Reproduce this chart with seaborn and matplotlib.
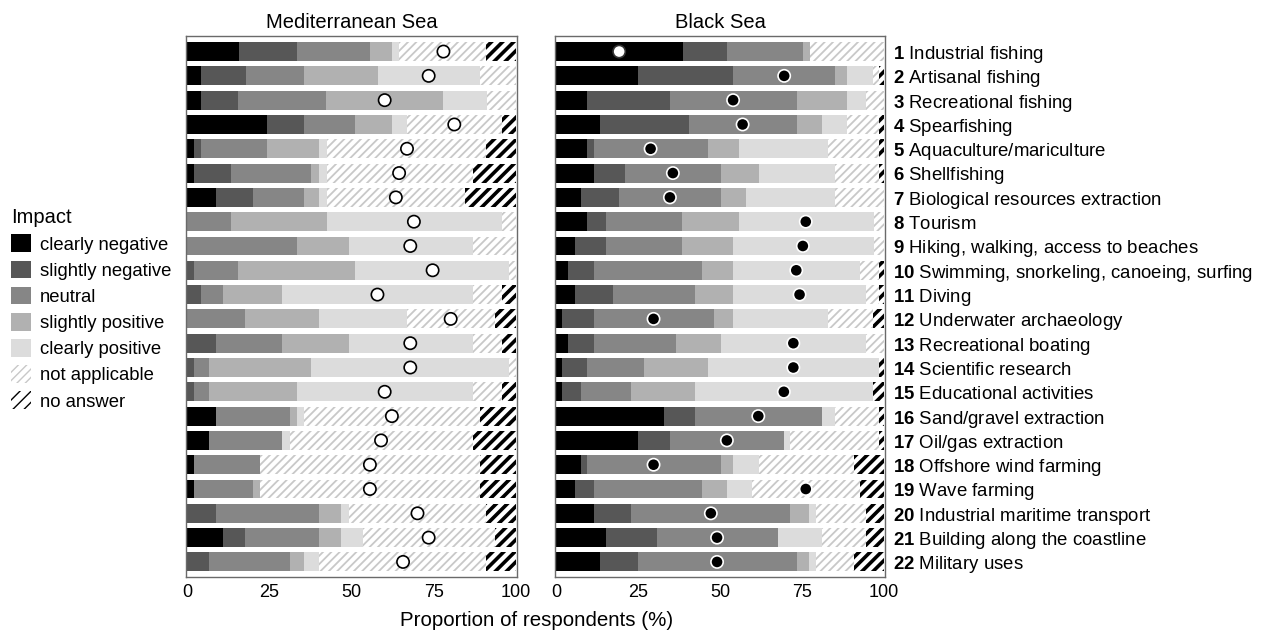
import numpy as np
import pandas as pd
import matplotlib
matplotlib.use("Agg")
import matplotlib.pyplot as plt
from matplotlib.patches import Patch
import seaborn as sns

sns.set_style("white")
plt.rcParams["font.family"] = ["Liberation Sans", "DejaVu Sans"]
plt.rcParams["mathtext.fontset"] = "custom"
plt.rcParams["mathtext.bf"] = "Liberation Sans:bold"
plt.rcParams["mathtext.rm"] = "Liberation Sans"
plt.rcParams["text.color"] = "black"
plt.rcParams["xtick.color"] = "black"

# Data
activities = ["Industrial fishing", "Artisanal fishing", "Recreational fishing", "Spearfishing",
              "Aquaculture/mariculture", "Shellfishing", "Biological resources extraction",
              "Tourism", "Hiking, walking, access to beaches",
              "Swimming, snorkeling, canoeing, surfing", "Diving", "Underwater archaeology",
              "Recreational boating", "Scientific research", "Educational activities",
              "Sand/gravel extraction", "Oil/gas extraction", "Offshore wind farming",
              "Wave farming", "Industrial maritime transport", "Building along the coastline",
              "Military uses"]
impacts = ["clearly negative", "slightly negative", "neutral", "slightly positive",
           "clearly positive", "not applicable", "no answer"]
seas = ["Mediterranean Sea", "Black Sea"]

# Mediterranean Sea (% of respondents)
med_cn = [15.6, 4.2, 4.2, 24.4, 2.1, 2.1, 8.8, 0, 0, 0, 0, 0, 0, 0, 0, 8.8, 6.6, 2.1, 2.1, 0, 11.0, 0]
med_sn = [17.9, 13.6, 11.3, 11.1, 2.1, 11.2, 11.1, 0, 0, 2.1, 4.2, 0, 8.8, 2.1, 2.1, 0, 0, 0, 0, 8.8, 6.7, 6.6]
med_n = [22.2, 17.8, 26.8, 15.7, 20.2, 24.5, 15.7, 13.3, 33.4, 13.4, 6.8, 17.7, 20.0, 4.5, 4.5, 22.4, 22.2, 20.1, 17.8, 31.3, 22.4, 24.6]
med_sp = [6.6, 22.4, 35.7, 11.1, 15.7, 2.3, 4.5, 29.1, 15.7, 35.7, 17.8, 22.4, 20.3, 31.2, 26.8, 2.2, 0, 0, 2.3, 6.6, 6.6, 4.4]
med_cp = [2.1, 31.2, 13.4, 4.5, 2.3, 2.3, 2.3, 53.4, 37.8, 46.8, 58.1, 26.7, 37.8, 60.2, 53.5, 2.2, 2.4, 0, 0, 2.4, 6.7, 4.5]
med_na = [26.7, 10.8, 8.6, 29.0, 48.7, 44.5, 42.3, 4.2, 13.1, 2.0, 8.9, 26.8, 8.9, 2.0, 8.9, 53.5, 55.7, 66.9, 66.9, 42.0, 40.2, 51.0]
med_noa = [8.9, 0, 0, 4.2, 8.9, 13.1, 15.3, 0, 0, 0, 4.2, 6.4, 4.2, 0, 4.2, 10.9, 13.1, 10.9, 10.9, 8.9, 6.4, 8.9]
med_score = [78.0, 73.5, 60.1, 81.3, 66.9, 64.5, 63.5, 69.0, 67.9, 74.7, 57.9, 80.2, 67.9, 67.9, 60.1, 62.3, 59.0, 55.6, 55.6, 70.1, 73.5, 65.7]

# Black Sea (% of respondents)
bs_cn = [38.6, 25.0, 9.3, 13.4, 9.3, 11.4, 7.5, 9.3, 5.6, 3.7, 5.6, 1.7, 3.7, 1.7, 1.7, 32.8, 25.0, 7.5, 5.6, 11.4, 15.2, 13.4]
bs_sn = [13.6, 29.0, 25.3, 27.0, 2.1, 9.7, 11.7, 5.9, 9.6, 7.7, 11.6, 9.7, 7.7, 7.7, 5.8, 9.6, 9.6, 1.9, 5.8, 11.5, 15.6, 11.6]
bs_n = [23.1, 31.0, 38.9, 33.1, 34.8, 29.1, 31.0, 23.3, 23.3, 33.0, 25.2, 36.7, 25.1, 17.5, 15.4, 38.8, 34.9, 40.8, 33.0, 48.6, 36.8, 48.5]
bs_sp = [2.1, 3.8, 15.4, 7.7, 9.7, 11.6, 7.8, 17.4, 15.4, 9.5, 11.5, 5.8, 13.7, 19.4, 19.5, 0, 0, 3.7, 7.7, 5.8, 0, 3.8]
bs_cp = [0, 7.8, 5.7, 7.7, 27.1, 23.2, 27.0, 41.0, 43.0, 38.9, 40.7, 29.1, 44.4, 52.2, 54.2, 3.8, 2.0, 7.9, 7.8, 1.9, 13.6, 1.9]
bs_na = [22.6, 1.9, 5.4, 9.8, 15.7, 13.7, 15.0, 3.1, 3.1, 5.9, 4.1, 13.6, 5.4, 0, 0, 13.7, 27.2, 29.0, 32.9, 15.4, 13.4, 11.6]
bs_noa = [0, 1.5, 0, 1.3, 1.3, 1.3, 0, 0, 0, 1.3, 1.3, 3.4, 0, 1.5, 3.4, 1.3, 1.3, 9.2, 7.2, 5.4, 5.4, 9.2]
bs_score = [19.2, 69.6, 54.0, 56.9, 28.8, 35.6, 34.7, 76.2, 75.3, 73.3, 74.3, 29.7, 72.4, 72.4, 69.5, 61.7, 52.1, 29.7, 76.2, 47.2, 49.1, 49.1]

panels = {
    "Mediterranean Sea": [med_cn, med_sn, med_n, med_sp, med_cp, med_na, med_noa],
    "Black Sea": [bs_cn, bs_sn, bs_n, bs_sp, bs_cp, bs_na, bs_noa],
}
scores = {"Mediterranean Sea": med_score, "Black Sea": bs_score}

# styles: (face, hatch colour, hatch, hatch width)
styles = [
    ("#000000", None, "", 0),
    ("#575757", None, "", 0),
    ("#868686", None, "", 0),
    ("#b1b1b1", None, "", 0),
    ("#dcdcdc", None, "", 0),
    ("white", "#c8c8c8", "////", 1.3),
    ("white", "#000000", "///", 2.6),
]
dot_face = {"Mediterranean Sea": "white", "Black Sea": "black"}

codes = [str(i + 1) for i in range(len(activities))]


def style_patch(p, st):
    face, hc, hatch, hw = st
    p.set_facecolor(face)
    p.set_linewidth(0)
    if hatch:
        p.set_hatch(hatch)
        p.set_edgecolor(hc)
        if hasattr(p, "set_hatch_linewidth"):
            p.set_hatch_linewidth(hw)


fig = plt.figure(figsize=(12.69, 6.35), dpi=100)
ax_med = fig.add_axes([186 / 1269, 1 - 577 / 635, 331 / 1269, 541 / 635])
ax_bs = fig.add_axes([555 / 1269, 1 - 577 / 635, 330 / 1269, 541 / 635])

for ax, sea in zip([ax_med, ax_bs], seas):
    vals = np.array(panels[sea])
    cum = np.cumsum(vals, axis=0)
    for k in range(len(impacts) - 1, -1, -1):
        df = pd.DataFrame({"code": codes, "value": cum[k]})
        n_before = len(ax.patches)
        sns.barplot(data=df, x="value", y="code", order=codes, orient="h",
                    color=styles[k][0], saturation=1, width=0.78, ax=ax)
        for p in ax.patches[n_before:]:
            style_patch(p, styles[k])

    sc = np.array(scores[sea])
    faces = []
    edges = []
    for i, s in enumerate(sc):
        if dot_face[sea] == "black" and s < vals[0][i]:
            faces.append("white")
            edges.append("#333333")
        elif dot_face[sea] == "black":
            faces.append("black")
            edges.append("white")
        else:
            faces.append("white")
            edges.append("black")
    ax.scatter(sc, np.arange(len(codes)), s=78, c=faces, edgecolors=edges,
               linewidths=1.2, zorder=5)

    ax.set_xlim(-0.4, 100.4)
    ax.set_ylim(21.62, -0.64)
    ax.set_xticks([0, 25, 50, 75, 100])
    ax.set_xticklabels(["0", "25", "50", "75", "100"], fontsize=13)
    ax.tick_params(axis="x", length=0, pad=5)
    ax.set_yticks([])
    ax.set_xlabel("")
    ax.set_ylabel("")
    ax.set_title(sea, fontsize=14.5, pad=6)
    for sp in ax.spines.values():
        sp.set_color("#6a6a6a")
        sp.set_linewidth(1)

# activity labels on the right
for i, (c, a) in enumerate(zip(codes, activities)):
    ax_bs.text(1.024, i + 0.12, r"$\bf{" + c + "}$ " + a, transform=ax_bs.get_yaxis_transform(),
               fontsize=13.4, ha="left", va="center")

fig.text(537 / 1269, 1 - 621 / 635, "Proportion of respondents (%)", fontsize=14.8,
         ha="center", va="center")

handles = []
for imp, st in zip(impacts, styles):
    h = Patch(facecolor=st[0], edgecolor=st[1] if st[1] else st[0], hatch=st[2],
              linewidth=0, label=imp)
    if st[2] and hasattr(h, "set_hatch_linewidth"):
        h.set_hatch_linewidth(st[3])
    handles.append(h)
leg = fig.legend(handles=handles, title="Impact", loc="upper left",
                 bbox_to_anchor=(4 / 1269, 1 - 201 / 635), frameon=False,
                 fontsize=13.3, title_fontsize=14.5, handlelength=1.05,
                 handleheight=1.1, handletextpad=0.5, labelspacing=0.38,
                 borderaxespad=0, alignment="left")

fig.savefig("out.png", dpi=100)
